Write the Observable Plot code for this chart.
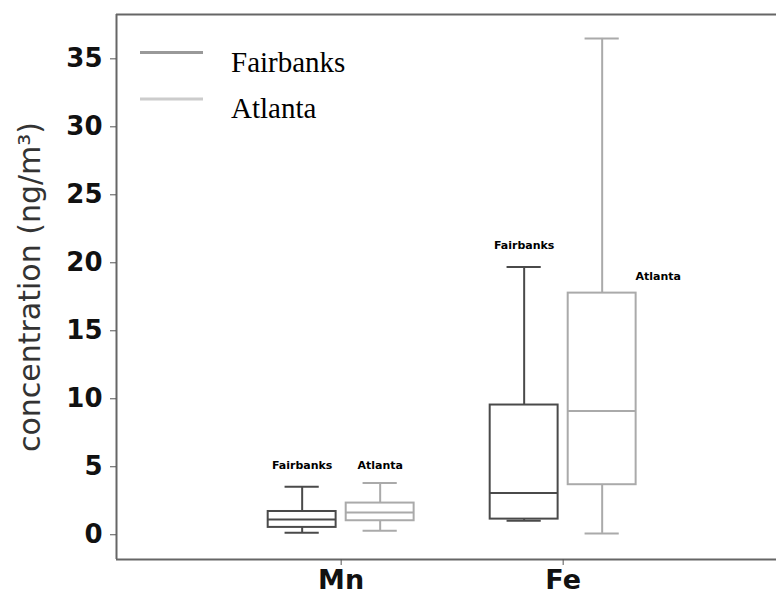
<!DOCTYPE html>
<html>
<head>
<meta charset="utf-8">
<script src="https://cdn.jsdelivr.net/npm/d3@7"></script>
<script src="https://cdn.jsdelivr.net/npm/@observablehq/plot@0.6"></script>
<style>
  html, body { margin: 0; padding: 0; background: #fff; }
  #chart svg { display: block; }
</style>
</head>
<body>
<div id="chart"></div>
<script>
// Elements measured and sampling sites
const elements = ["Mn", "Fe"];
const sites = ["Fairbanks", "Atlanta"];

// Box summaries (ng/m³), one entry per site × element
const boxSite = ["Fairbanks", "Fairbanks", "Atlanta", "Atlanta"];
const boxElement = ["Mn", "Fe", "Mn", "Fe"];
const whiskerLow = [0.15, 1.03, 0.29, 0.1];
const quartile1 = [0.54, 1.15, 1.03, 3.68];
const median = [1.13, 3.07, 1.64, 9.1];
const quartile3 = [1.71, 9.54, 2.33, 17.77];
const whiskerHigh = [3.53, 19.7, 3.8, 36.5];

// Site name tags written above the boxes (value axis height)
const tagHeight = [5.1, 21.3, 5.1, 19.0];

const yTicks = [0, 5, 10, 15, 20, 25, 30, 35];

const siteColor = {Fairbanks: "#4a4a4a", Atlanta: "#aaaaaa"};
const legendColor = {Fairbanks: "#999999", Atlanta: "#cccccc"};
const siteOffset = {Fairbanks: -0.1757, Atlanta: 0.1757};
const boxHalf = 0.153;
const capHalf = 0.077;

const boxes = boxSite.map((s, i) => {
  const cx = elements.indexOf(boxElement[i]) + siteOffset[s];
  return {
    site: s, element: boxElement[i], cx,
    low: whiskerLow[i], q1: quartile1[i], med: median[i], q3: quartile3[i], high: whiskerHigh[i],
    tag: tagHeight[i]
  };
});

const xDomain = [-1.012, 1.961];
const yDomain = [-1.82, 38.26];

const stroke = d => siteColor[d.site];

const chart = Plot.plot({
  width: 776,
  height: 597,
  marginLeft: 116,
  marginRight: 0,
  marginTop: 14,
  marginBottom: 38,
  style: {background: "#fff"},
  x: {type: "linear", domain: xDomain},
  y: {domain: yDomain},
  marks: [
    // axes frame (left, top, bottom)
    Plot.ruleX([xDomain[0]], {stroke: "#666", strokeWidth: 2}),
    Plot.ruleY([yDomain[1]], {stroke: "#666", strokeWidth: 2}),
    Plot.ruleY([yDomain[0]], {stroke: "#666", strokeWidth: 2}),
    Plot.axisY({
      ticks: yTicks, tickSize: 6, tickPadding: 8, label: null,
      fontSize: 26, fontWeight: "bold", fill: "#111", stroke: "#555",
      fontFamily: "DejaVu Sans"
    }),
    Plot.axisX({
      ticks: [0, 1], tickFormat: i => elements[i], tickSize: 6, tickPadding: 4,
      label: null, fontSize: 27, fontWeight: "bold", fill: "#111", stroke: "#555",
      fontFamily: "DejaVu Sans"
    }),
    Plot.text(["concentration (ng/m³)"], {
      frameAnchor: "left", dx: -86, rotate: -90, text: d => d,
      textAnchor: "middle", lineAnchor: "middle",
      fontSize: 30, fill: "#333", fontFamily: "DejaVu Sans"
    }),
    // whiskers
    Plot.ruleX(boxes, {x: "cx", y1: "q3", y2: "high", stroke, strokeWidth: 2}),
    Plot.ruleX(boxes, {x: "cx", y1: "low", y2: "q1", stroke, strokeWidth: 2}),
    Plot.ruleY(boxes, {y: "high", x1: d => d.cx - capHalf, x2: d => d.cx + capHalf, stroke, strokeWidth: 2}),
    Plot.ruleY(boxes, {y: "low", x1: d => d.cx - capHalf, x2: d => d.cx + capHalf, stroke, strokeWidth: 2}),
    // interquartile boxes
    Plot.rect(boxes, {
      x1: d => d.cx - boxHalf, x2: d => d.cx + boxHalf, y1: "q1", y2: "q3",
      fill: "white", stroke, strokeWidth: 2
    }),
    Plot.ruleY(boxes, {y: "med", x1: d => d.cx - boxHalf, x2: d => d.cx + boxHalf, stroke, strokeWidth: 2}),
    // site tags
    Plot.text(boxes.filter(d => !(d.element === "Fe" && d.site === "Atlanta")), {
      x: "cx", y: "tag", text: "site", fontSize: 11, fontWeight: "bold",
      fontFamily: "DejaVu Sans", fill: "#000"
    }),
    Plot.text(boxes.filter(d => d.element === "Fe" && d.site === "Atlanta"), {
      x: "cx", y: "tag", text: "site", dx: 56, fontSize: 11, fontWeight: "bold",
      fontFamily: "DejaVu Sans", fill: "#000"
    })
  ]
});

// In-plot legend, upper left
const svg = d3.select(chart);
const legend = svg.append("g").attr("text-anchor", "start");
sites.forEach((s, i) => {
  const y = 52.5 + i * 46.5;
  legend.append("line")
    .attr("x1", 140).attr("x2", 203).attr("y1", y).attr("y2", y)
    .attr("stroke", legendColor[s]).attr("stroke-width", 3);
  legend.append("text")
    .attr("x", 231).attr("y", y + 19)
    .attr("text-anchor", "start")
    .attr("font-family", "Liberation Serif").attr("font-size", 29)
    .attr("fill", "#000").text(s);
});

document.getElementById("chart").appendChild(chart);
</script>
</body>
</html>
